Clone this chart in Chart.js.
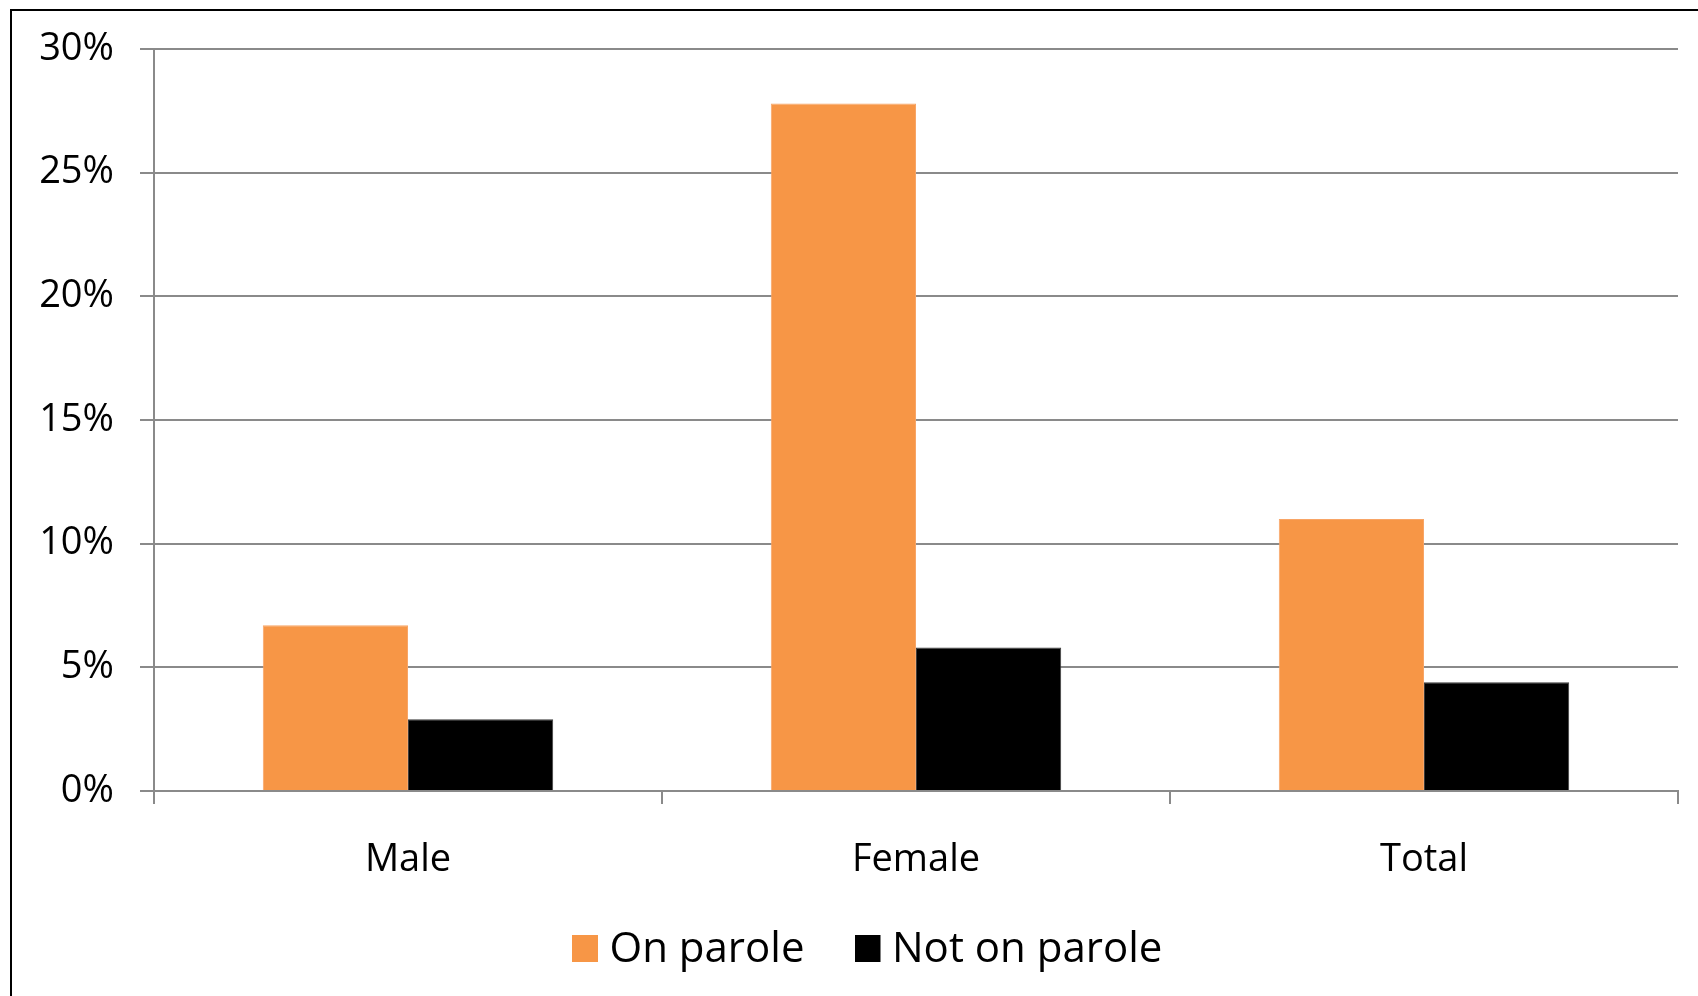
<!DOCTYPE html>
<html>
<head>
<meta charset="utf-8">
<title>Parole status by sex</title>
<script src="https://cdn.jsdelivr.net/npm/chart.js@4/dist/chart.umd.min.js"></script>
<style>
  html, body { margin: 0; padding: 0; background: #fff; }
  #wrap { position: relative; width: 1698px; height: 996px; overflow: hidden; }
  #wrap canvas { position: absolute; left: 0; top: 0; }
  #frame {
    position: absolute; left: 10px; top: 9px; width: 1800px; height: 1100px;
    border-left: 2px solid #000; border-top: 2px solid #000; pointer-events: none;
  }
</style>
</head>
<body>
<div id="wrap">
  <canvas id="chart" width="1698" height="996"></canvas>
  <div id="frame"></div>
</div>
<script>
// Categories and series (percent)
const categories = ['Male', 'Female', 'Total'];
const seriesNames = ['On parole', 'Not on parole'];
const onParole = [6.7, 27.8, 11.0];
const notOnParole = [2.9, 5.8, 4.4];
// Value-axis ticks (percent)
const yTickValues = [0, 5, 10, 15, 20, 25, 30];

const ORANGE = '#F79646';
const BLACK = '#000000';
const GRID = '#8a8a8a';
const TICK_FONT = { family: "'Open Sans', sans-serif", size: 38 };
const LEGEND_FONT = { family: "'Open Sans', sans-serif", size: 42 };

// Legend row placement
const LEGEND_START_X = 587.5;     // x of the first legend item
const LEGEND_ITEM2_X = 870;       // x of the second legend item
const LEGEND_TEXT_MID_Y = 950.5;
const LEGEND_BOX_HEIGHT = 109;

// Spacing between legend items so the second item starts at LEGEND_ITEM2_X
const legendPad = (() => {
  const g = document.createElement('canvas').getContext('2d');
  g.font = LEGEND_FONT.size + 'px ' + LEGEND_FONT.family;
  const tw1 = g.measureText(seriesNames[0]).width;
  const lead = 1 + LEGEND_FONT.size / 2;  // box width + half font size
  return (LEGEND_ITEM2_X - LEGEND_START_X) - lead - tw1;
})();

// Legend swatch: a 26x27 colour block placed in a small canvas
function makeSwatch(color) {
  const c = document.createElement('canvas');
  c.width = 32; c.height = 31;
  const g = c.getContext('2d');
  g.fillStyle = color;
  g.fillRect(0, 0, 26, 27);
  return c;
}
const swatches = [makeSwatch(ORANGE), makeSwatch(BLACK)];

const legendPlacement = {
  id: 'legendPlacement',
  beforeLayout(chart) {
    const lg = chart.legend;
    if (lg && !lg._fixedFit) {
      const fit = lg.fit;
      lg.fit = function () { fit.call(this); this.height = LEGEND_BOX_HEIGHT; };
      lg._fixedFit = true;
    }
  },
  afterLayout(chart) {
    const lg = chart.legend;
    if (!lg || !lg.lineWidths) return;
    const pad = lg.options.labels.padding;
    const start = (lg.left + pad + lg.right - lg.lineWidths[0]) / 2;
    const dx = LEGEND_START_X - start;
    lg.left += dx; lg.right += dx;
    lg.top = LEGEND_TEXT_MID_Y - lg.options.labels.font.size / 2 - pad;
    lg.bottom = chart.height;
    lg.height = lg.bottom - lg.top;
  }
};

new Chart(document.getElementById('chart'), {
  type: 'bar',
  data: {
    labels: categories,
    datasets: [
      { label: seriesNames[0], data: onParole, backgroundColor: ORANGE,
        borderColor: '#f8a566', borderWidth: 1 },
      { label: seriesNames[1], data: notOnParole, backgroundColor: BLACK,
        borderColor: '#3c3c3c', borderWidth: 1 }
    ]
  },
  plugins: [legendPlacement],
  options: {
    responsive: false,
    animation: false,
    devicePixelRatio: 1,
    layout: { padding: { top: 49, right: 20, bottom: 12, left: 0 } },
    datasets: { bar: { categoryPercentage: 0.5717, barPercentage: 1.0 } },
    scales: {
      x: {
        offset: true,
        grid: { display: true, drawOnChartArea: false, drawTicks: true, offset: true,
                tickLength: 13, color: GRID, lineWidth: 2 },
        border: { display: true, color: GRID, width: 2 },
        ticks: { color: '#000', font: TICK_FONT, padding: 33, maxRotation: 0 },
        afterFit(scale) { scale.height = 84; }
      },
      y: {
        min: 0, max: 30,
        afterBuildTicks(scale) { scale.ticks = yTickValues.map(v => ({ value: v })); },
        grid: { color: GRID, lineWidth: 2, tickLength: 14, drawTicks: true },
        border: { display: true, color: GRID, width: 2 },
        ticks: { color: '#000', font: TICK_FONT, padding: 26,
                 callback: v => v + '%' },
        afterFit(scale) { scale.width = 154; }
      }
    },
    plugins: {
      tooltip: { enabled: false },
      legend: {
        position: 'bottom',
        labels: {
          color: '#000',
          font: LEGEND_FONT,
          usePointStyle: true,
          boxWidth: 1,
          padding: legendPad,
          generateLabels(chart) {
            const items = Chart.defaults.plugins.legend.labels.generateLabels(chart);
            items.forEach((it, i) => { it.pointStyle = swatches[i]; });
            return items;
          }
        }
      }
    }
  }
});
</script>
</body>
</html>
